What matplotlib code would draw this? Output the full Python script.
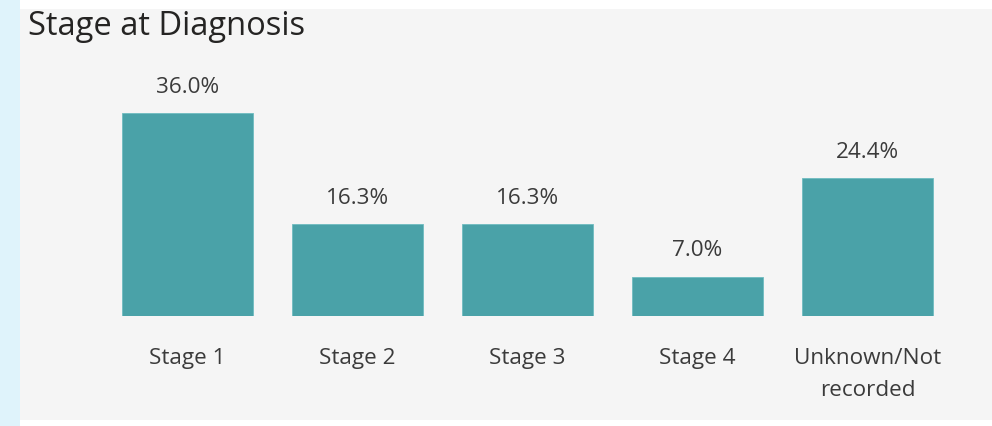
import matplotlib
matplotlib.use("Agg")
import matplotlib.pyplot as plt
from matplotlib.patches import Rectangle

# Data
categories = ["Stage 1", "Stage 2", "Stage 3", "Stage 4", "Unknown/Not\nrecorded"]
shares = [36.0, 16.3, 16.3, 7.0, 24.4]
value_labels = ["36.0%", "16.3%", "16.3%", "7.0%", "24.4%"]

W, H, DPI = 992, 426, 100
PX = 72 / DPI  # points per pixel
fig = plt.figure(figsize=(W / DPI, H / DPI), dpi=DPI, facecolor="white")

# Page strip on the left and the card behind the visual
fig.patches.append(Rectangle((0, 0), 20 / W, 1, transform=fig.transFigure,
                             facecolor="#dff3fb", edgecolor="none", zorder=0))
fig.patches.append(Rectangle((20 / W, 6 / H), 972 / W, 411 / H, transform=fig.transFigure,
                             facecolor="#f5f5f5", edgecolor="none", zorder=0))

font = "Open Sans"
text_color = "#3b3b3b"
label_size = 16.2

# Plot area: zero line at 316 px from top, 36 % reaches 113 px from top
ax = fig.add_axes([20 / W, 110 / H, 972 / W, 203 / H], zorder=2)
ax.set_facecolor("none")
x = list(range(len(categories)))
ax.bar(x, shares, width=0.774, color="#4aa2a8", edgecolor="#6fbcc0", linewidth=0.6)
ax.set_xlim(-167.5 / 170, -167.5 / 170 + 972 / 170)
ax.set_ylim(0, 36.0)

for xi, v, lab in zip(x, shares, value_labels):
    ax.annotate(lab, (xi, v), xytext=(0, 20.3 * PX), textcoords="offset points",
                ha="center", va="baseline", fontsize=label_size, family=font, color=text_color,
                annotation_clip=False)

for xi, cat in zip(x, categories):
    lines = cat.split("\n")
    for k, line in enumerate(lines):
        ax.annotate(line, (xi, 0), xytext=(0, -(48.3 + 32 * k) * PX), textcoords="offset points",
                    ha="center", va="baseline", fontsize=label_size, family=font, color=text_color,
                    annotation_clip=False)

ax.set_xticks([])
ax.set_yticks([])
for s in ax.spines.values():
    s.set_visible(False)

fig.text(28 / W, 1 - 35 / H, "Stage at Diagnosis", ha="left", va="baseline",
         fontsize=23.5, family=font, color="#252423", zorder=3)

fig.savefig("out.png", dpi=DPI, facecolor="white")
